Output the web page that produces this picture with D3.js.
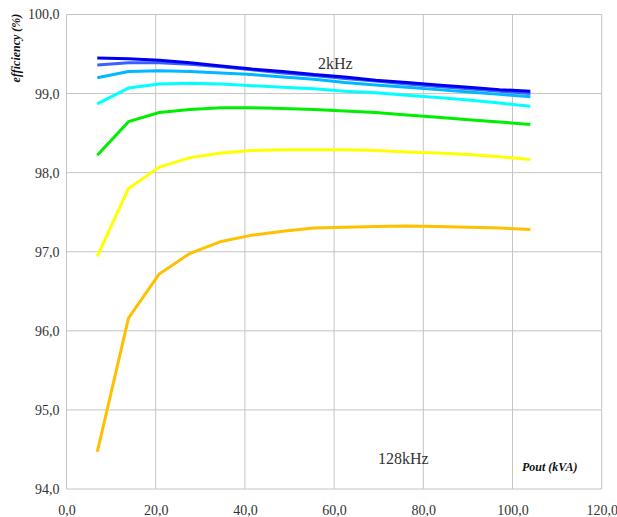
<!DOCTYPE html>
<html>
<head>
<meta charset="utf-8">
<script src="https://cdn.jsdelivr.net/npm/d3@7"></script>
<style>
  body { margin: 0; background: #fff; }
  svg { display: block; }
</style>
</head>
<body>
<svg id="chart" width="617" height="517"></svg>
<script>
// output power (kVA) at each measured point
const pout = [6.9, 13.9, 20.8, 27.7, 34.7, 41.6, 48.5, 55.5, 62.4, 69.3, 76.3, 83.2, 90.1, 97.1, 104.0];

// efficiency (%) per switching frequency
const eff2k   = [99.45, 99.44, 99.42, 99.39, 99.35, 99.31, 99.28, 99.24, 99.21, 99.17, 99.14, 99.11, 99.08, 99.05, 99.03];
const eff4k   = [99.36, 99.39, 99.39, 99.37, 99.34, 99.30, 99.26, 99.23, 99.19, 99.16, 99.12, 99.09, 99.06, 99.03, 99.00];
const eff8k   = [99.20, 99.28, 99.29, 99.28, 99.26, 99.24, 99.21, 99.18, 99.14, 99.11, 99.08, 99.05, 99.02, 98.99, 98.96];
const eff16k  = [98.87, 99.07, 99.12, 99.13, 99.12, 99.10, 99.08, 99.06, 99.03, 99.01, 98.98, 98.95, 98.92, 98.88, 98.84];
const eff32k  = [98.22, 98.645, 98.76, 98.80, 98.82, 98.82, 98.81, 98.80, 98.78, 98.76, 98.73, 98.70, 98.67, 98.64, 98.61];
const eff64k  = [96.94, 97.80, 98.07, 98.19, 98.25, 98.28, 98.29, 98.29, 98.29, 98.28, 98.26, 98.25, 98.23, 98.20, 98.165];
const eff128k = [94.47, 96.16, 96.72, 96.98, 97.13, 97.21, 97.26, 97.30, 97.31, 97.32, 97.325, 97.32, 97.31, 97.30, 97.28];

const seriesNames  = ["128kHz", "64kHz", "32kHz", "16kHz", "8kHz", "4kHz", "2kHz"];
const seriesValues = [eff128k, eff64k, eff32k, eff16k, eff8k, eff4k, eff2k];
const seriesColors = ["#ffc000", "#ffff00", "#00ee00", "#00ffff", "#00b8ff", "#3a60ff", "#0000f0"];

const xTicks = [0, 20, 40, 60, 80, 100, 120];
const yTicks = [94, 95, 96, 97, 98, 99, 100];

const SERIF = '"Liberation Serif", "Times New Roman", serif';
const svg = d3.select("#chart");
const fmt = d => d.toFixed(1).replace(".", ",");

const x = d3.scaleLinear().domain([0, 120]).range([66.5, 601.7]);
const y = d3.scaleLinear().domain([94, 100]).range([489, 14.5]);

// grid
const grid = svg.append("g");
grid.selectAll("line.vg").data(xTicks).join("line")
  .attr("x1", d => x(d)).attr("x2", d => x(d))
  .attr("y1", y(100)).attr("y2", y(94))
  .attr("stroke", "#c4c4c4").attr("stroke-width", 1);
grid.selectAll("line.hg").data(yTicks).join("line")
  .attr("x1", x(0)).attr("x2", x(120))
  .attr("y1", d => y(d)).attr("y2", d => y(d))
  .attr("stroke", "#c4c4c4").attr("stroke-width", 1);

// axes (labels only, Excel-style)
const xAxis = svg.append("g").attr("transform", `translate(0,${y(94)})`)
  .call(d3.axisBottom(x).tickValues(xTicks).tickFormat(fmt).tickSize(0).tickPadding(16));
const yAxis = svg.append("g").attr("transform", `translate(${x(0)},0)`)
  .call(d3.axisLeft(y).tickValues(yTicks).tickFormat(fmt).tickSize(0).tickPadding(7));
[xAxis, yAxis].forEach(a => {
  a.attr("font-family", null).attr("font-size", null);
  a.select(".domain").remove();
  a.selectAll("text").style("font-family", SERIF).style("font-size", "14px").attr("fill", "#333");
});

// curves
const line = d3.line().x((d, i) => x(pout[i])).y(d => y(d));
svg.append("g").selectAll("path").data(seriesValues).join("path")
  .attr("d", line)
  .attr("fill", "none")
  .attr("stroke", (d, i) => seriesColors[i])
  .attr("stroke-width", 3)
  .attr("stroke-linejoin", "round");

// annotations
const note = (tx, ty, str, size, bold) => svg.append("text")
  .attr("x", tx).attr("y", ty)
  .style("font-family", SERIF).style("font-size", size)
  .style("font-weight", bold ? "bold" : null).style("font-style", bold ? "italic" : null)
  .attr("fill", bold ? "#111" : "#333").text(str);
note(318, 69, "2kHz", "16px", false);
note(378, 464, "128kHz", "16px", false);
note(522, 471, "Pout (kVA)", "12px", true);
note(0, 0, "efficiency (%)", "12px", true)
  .attr("transform", "translate(20,48) rotate(-90)").attr("text-anchor", "middle");
</script>
</body>
</html>
